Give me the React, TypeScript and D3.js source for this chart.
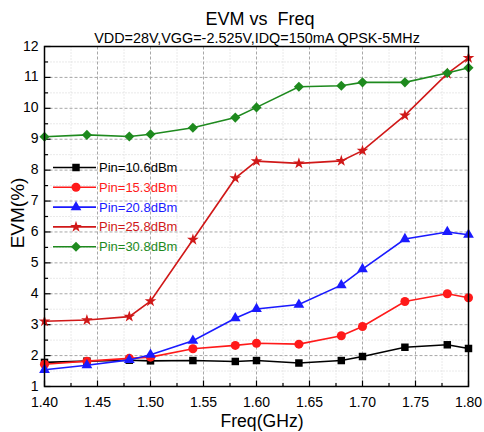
import * as d3 from 'd3';

// ── Data ──

const freqs = [1.4, 1.44, 1.48, 1.5, 1.54, 1.58, 1.6, 1.64, 1.68, 1.7, 1.74, 1.78, 1.8];

const pin106 = [1.78, 1.82, 1.85, 1.83, 1.84, 1.81, 1.84, 1.76, 1.84, 1.97, 2.27, 2.35, 2.23];
const pin153 = [1.72, 1.82, 1.91, 1.95, 2.22, 2.33, 2.4, 2.37, 2.64, 2.94, 3.75, 4.0, 3.87];
const pin208 = [1.54, 1.69, 1.86, 2.03, 2.48, 3.21, 3.51, 3.65, 4.28, 4.8, 5.77, 6.0, 5.91];
const pin258 = [3.11, 3.15, 3.26, 3.76, 5.75, 7.74, 8.29, 8.22, 8.3, 8.63, 9.77, 11.12, 11.63];
const pin308 = [9.08, 9.14, 9.09, 9.16, 9.37, 9.7, 10.03, 10.7, 10.73, 10.84, 10.84, 11.14, 11.31];

const seriesNames = ['Pin=10.6dBm', 'Pin=15.3dBm', 'Pin=20.8dBm', 'Pin=25.8dBm', 'Pin=30.8dBm'];
const seriesValues = [pin106, pin153, pin208, pin258, pin308];

const xTicks = [1.4, 1.45, 1.5, 1.55, 1.6, 1.65, 1.7, 1.75, 1.8];
const yTicks = [1, 2, 3, 4, 5, 6, 7, 8, 9, 10, 11, 12];

// ── Styles ──

const COLORS = ['#000000', '#ff1a1a', '#1a1aff', '#d01818', '#1e8a1e'];
const SYMBOLS = [d3.symbolSquare, d3.symbolCircle, d3.symbolTriangle, d3.symbolStar, d3.symbolSquare];
const SIZES = [56, 64, 50, 42, 46];
// the diamond is a square turned 45deg
const SYM_XFORM = ['', '', '', '', ' rotate(45) scale(1.05)'];

const W = 484;
const H = 432;
const M = { left: 44.5, right: 468.5, top: 46.5, bottom: 386.5 };
const FONT = 'Arial, "Liberation Sans", sans-serif';

export default function App() {
  const x = d3.scaleLinear().domain([1.4, 1.8]).range([M.left, M.right]);
  const y = d3.scaleLinear().domain([1, 12]).range([M.bottom, M.top]);

  const line = d3
    .line<number>()
    .x((_, i) => x(freqs[i]))
    .y((d) => y(d));

  const xMinor = d3.range(0, 17).map((i) => 1.4 + i * 0.025);
  const yMinor = d3.range(0, 23).map((i) => 1 + i * 0.5);

  const sym = (i: number) => d3.symbol(SYMBOLS[i], SIZES[i])() || '';

  return (
    <svg
      width={W}
      height={H}
      style={{ position: 'absolute', left: 0, top: 0, background: '#fff', fontFamily: FONT }}
    >
      {/* minor grid */}
      {xMinor
        .filter((_, i) => i % 2 === 1)
        .map((v) => (
          <line key={'xm' + v} x1={x(v)} x2={x(v)} y1={M.top} y2={M.bottom} stroke="#d4d4d4" strokeDasharray="1,2" />
        ))}
      {yMinor
        .filter((_, i) => i % 2 === 1)
        .map((v) => (
          <line key={'ym' + v} x1={M.left} x2={M.right} y1={y(v)} y2={y(v)} stroke="#d4d4d4" strokeDasharray="1,2" />
        ))}
      {/* major grid */}
      {xTicks.slice(1, -1).map((v) => (
        <line key={'xg' + v} x1={x(v)} x2={x(v)} y1={M.top} y2={M.bottom} stroke="#a8a8a8" strokeDasharray="3,2" />
      ))}
      {yTicks.slice(1, -1).map((v) => (
        <line key={'yg' + v} x1={M.left} x2={M.right} y1={y(v)} y2={y(v)} stroke="#a8a8a8" strokeDasharray="3,2" />
      ))}

      {/* ticks */}
      {xMinor.map((v, i) => (
        <line key={'xt' + i} x1={x(v)} x2={x(v)} y1={M.bottom} y2={M.bottom - (i % 2 === 0 ? 6 : 3.5)} stroke="#000" strokeWidth={1.2} />
      ))}
      {yMinor.map((v, i) => (
        <line key={'yt' + i} x1={M.left} x2={M.left + (i % 2 === 0 ? 6 : 3.5)} y1={y(v)} y2={y(v)} stroke="#000" strokeWidth={1.2} />
      ))}

      {/* series */}
      {seriesValues.map((vals, s) => (
        <g key={'s' + s}>
          <path d={line(vals) || ''} fill="none" stroke={COLORS[s]} strokeWidth={1.6} />
          {vals.map((v, i) => (
            <path
              key={i}
              d={sym(s)}
              transform={`translate(${x(freqs[i])},${y(v)})${SYM_XFORM[s]}`}
              fill={COLORS[s]}
            />
          ))}
        </g>
      ))}

      {/* frame */}
      <rect
        x={M.left}
        y={M.top}
        width={M.right - M.left}
        height={M.bottom - M.top}
        fill="none"
        stroke="#000"
        strokeWidth={1.5}
      />

      {/* tick labels */}
      {xTicks.map((v) => (
        <text key={'xl' + v} x={x(v)} y={M.bottom + 20} textAnchor="middle" fontSize={14} fill="#000">
          {v.toFixed(2)}
        </text>
      ))}
      {yTicks.map((v) => (
        <text key={'yl' + v} x={M.left - 6} y={y(v) + 4} textAnchor="end" fontSize={14} fill="#000">
          {v}
        </text>
      ))}

      {/* legend */}
      {seriesNames.map((name, s) => {
        const ly = 167.5 + s * 19.8;
        return (
          <g key={'lg' + s}>
            <line x1={53} x2={96} y1={ly} y2={ly} stroke={COLORS[s]} strokeWidth={1.6} />
            <path d={sym(s)} transform={`translate(76,${ly})${SYM_XFORM[s]}`} fill={COLORS[s]} />
            <text x={99} y={ly + 4.5} fontSize={13} fill={COLORS[s]}>
              {name}
            </text>
          </g>
        );
      })}

      {/* titles */}
      <text x={260} y={25} textAnchor="middle" fontSize={18} fill="#000" style={{ whiteSpace: 'pre' }}>
        {'EVM vs  Freq'}
      </text>
      <text x={257} y={43} textAnchor="middle" fontSize={14.4} fill="#000">
        VDD=28V,VGG=-2.525V,IDQ=150mA QPSK-5MHz
      </text>
      <text x={262} y={427} textAnchor="middle" fontSize={17.6} fill="#000">
        Freq(GHz)
      </text>
      <text transform="translate(23.5,213) rotate(-90)" textAnchor="middle" fontSize={19} fill="#000">
        EVM(%)
      </text>
    </svg>
  );
}
